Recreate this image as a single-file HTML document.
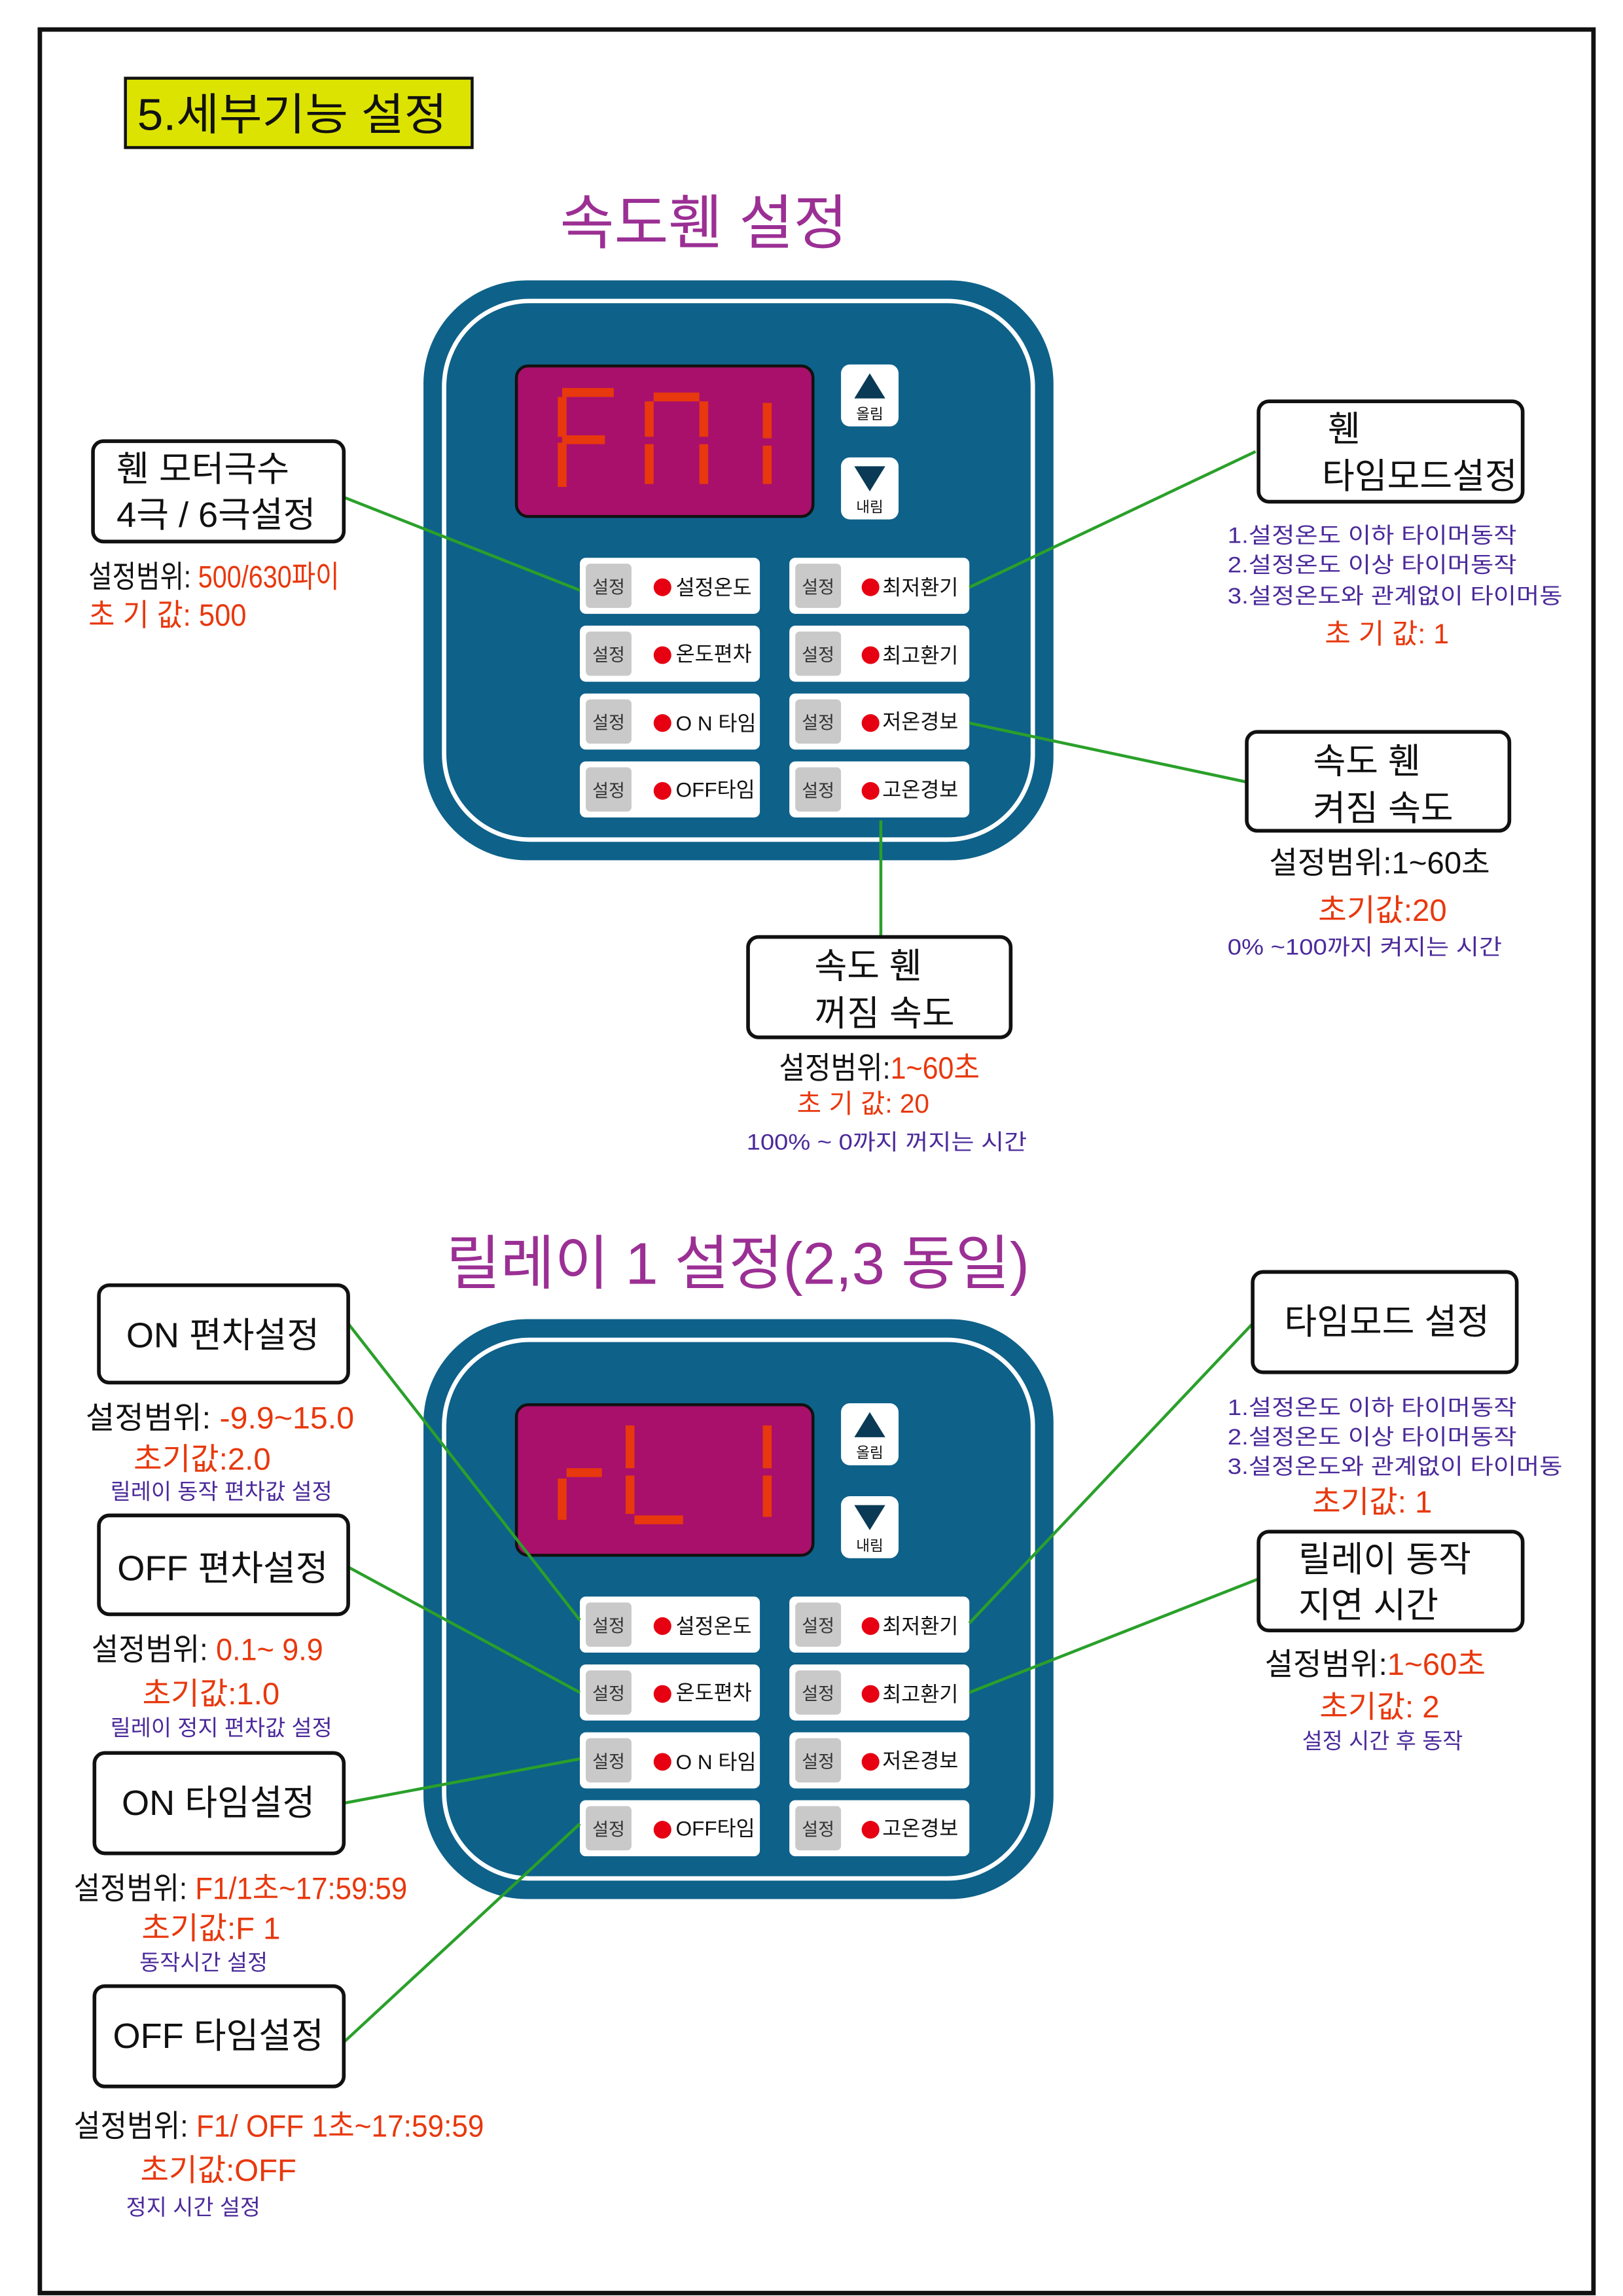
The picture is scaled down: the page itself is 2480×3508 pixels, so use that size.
<!DOCTYPE html>
<html><head><meta charset="utf-8"><style>
html,body{margin:0;padding:0;background:#fff}
svg{display:block}
text{font-family:"Liberation Sans","Noto Sans CJK KR",sans-serif}
.k{fill:#111}.r{fill:#e8380d}.p{fill:#4b2a9a}
</style></head><body>
<svg width="2480" height="3508" viewBox="0 0 1100 1556" xmlns="http://www.w3.org/2000/svg">
<rect x="0" y="0" width="1100" height="1556" fill="#fff"/>
<rect x="27" y="20" width="1053" height="1534" fill="none" stroke="#111" stroke-width="3"/>
<rect x="85" y="53" width="235" height="47" fill="#dde300" stroke="#111" stroke-width="2"/>
<text x="93" y="88" font-size="30" class="k" textLength="210" lengthAdjust="spacingAndGlyphs">5.세부기능 설정</text>

<text x="477" y="165" font-size="40" fill="#9b2f94" text-anchor="middle">속도휀  설정</text>

<!-- panel 1 -->
<g id="panel">
<rect x="287" y="190" width="427" height="393" rx="70" fill="#0e6189"/>
<rect x="301" y="204" width="399" height="365" rx="58" fill="none" stroke="#fff" stroke-width="3"/>
<rect x="350" y="248" width="201" height="102" rx="8" fill="#a8106b" stroke="#111" stroke-width="2"/>
<rect x="570" y="247" width="39" height="42" rx="6" fill="#fff"/>
<polygon points="589.5,253 579,270 600,270" fill="#0a3a55"/>
<text x="589.5" y="284" font-size="10" text-anchor="middle" class="k">올림</text>
<rect x="570" y="310" width="39" height="42" rx="6" fill="#fff"/>
<polygon points="579,316 600,316 589.5,333" fill="#0a3a55"/>
<text x="589.5" y="347" font-size="10" text-anchor="middle" class="k">내림</text>
<g font-size="14">
<rect x="393" y="378" width="122" height="38" rx="4" fill="#fff"/><rect x="397" y="382" width="31" height="30" rx="3" fill="#c9c9c9"/><text x="412.5" y="402" font-size="12" text-anchor="middle" fill="#333">설정</text><circle cx="449" cy="398" r="6" fill="#e60012"/><text x="458" y="403" class="k">설정온도</text>
<rect x="393" y="424" width="122" height="38" rx="4" fill="#fff"/><rect x="397" y="428" width="31" height="30" rx="3" fill="#c9c9c9"/><text x="412.5" y="448" font-size="12" text-anchor="middle" fill="#333">설정</text><circle cx="449" cy="444" r="6" fill="#e60012"/><text x="458" y="448" class="k">온도편차</text>
<rect x="393" y="470" width="122" height="38" rx="4" fill="#fff"/><rect x="397" y="474" width="31" height="30" rx="3" fill="#c9c9c9"/><text x="412.5" y="494" font-size="12" text-anchor="middle" fill="#333">설정</text><circle cx="449" cy="490" r="6" fill="#e60012"/><text x="458" y="495" class="k">O N 타임</text>
<rect x="393" y="516" width="122" height="38" rx="4" fill="#fff"/><rect x="397" y="520" width="31" height="30" rx="3" fill="#c9c9c9"/><text x="412.5" y="540" font-size="12" text-anchor="middle" fill="#333">설정</text><circle cx="449" cy="536" r="6" fill="#e60012"/><text x="458" y="540" class="k">OFF타임</text>
<rect x="535" y="378" width="122" height="38" rx="4" fill="#fff"/><rect x="539" y="382" width="31" height="30" rx="3" fill="#c9c9c9"/><text x="554.5" y="402" font-size="12" text-anchor="middle" fill="#333">설정</text><circle cx="590" cy="398" r="6" fill="#e60012"/><text x="598" y="403" class="k">최저환기</text>
<rect x="535" y="424" width="122" height="38" rx="4" fill="#fff"/><rect x="539" y="428" width="31" height="30" rx="3" fill="#c9c9c9"/><text x="554.5" y="448" font-size="12" text-anchor="middle" fill="#333">설정</text><circle cx="590" cy="444" r="6" fill="#e60012"/><text x="598" y="449" class="k">최고환기</text>
<rect x="535" y="470" width="122" height="38" rx="4" fill="#fff"/><rect x="539" y="474" width="31" height="30" rx="3" fill="#c9c9c9"/><text x="554.5" y="494" font-size="12" text-anchor="middle" fill="#333">설정</text><circle cx="590" cy="490" r="6" fill="#e60012"/><text x="598" y="494" class="k">저온경보</text>
<rect x="535" y="516" width="122" height="38" rx="4" fill="#fff"/><rect x="539" y="520" width="31" height="30" rx="3" fill="#c9c9c9"/><text x="554.5" y="540" font-size="12" text-anchor="middle" fill="#333">설정</text><circle cx="590" cy="536" r="6" fill="#e60012"/><text x="598" y="540" class="k">고온경보</text>
</g>
</g>
<g stroke="#e8380d" stroke-width="6" stroke-linecap="butt">
<line x1="381" y1="266" x2="416" y2="266"/><line x1="381" y1="269" x2="381" y2="296"/><line x1="381" y1="300" x2="381" y2="330"/><line x1="381" y1="298" x2="410" y2="298"/>
<line x1="443" y1="269" x2="474" y2="269"/><line x1="440" y1="272" x2="440" y2="296"/><line x1="440" y1="301" x2="440" y2="328"/><line x1="477" y1="272" x2="477" y2="296"/><line x1="477" y1="301" x2="477" y2="328"/>
<line x1="520" y1="273" x2="520" y2="297"/><line x1="520" y1="302" x2="520" y2="328"/>
</g>

<!-- panel 2 -->
<use href="#panel" y="704"/>
<g stroke="#e8380d" stroke-width="6">
<line x1="384" y1="998" x2="408" y2="998"/><line x1="381" y1="1002" x2="381" y2="1030"/>
<line x1="427" y1="966" x2="427" y2="995"/><line x1="427" y1="1000" x2="427" y2="1026"/><line x1="430" y1="1030" x2="463" y2="1030"/>
<line x1="520" y1="966" x2="520" y2="995"/><line x1="520" y1="1000" x2="520" y2="1028"/>
</g>

<!-- connectors -->
<g stroke="#2aa02a" stroke-width="2" fill="none">
<line x1="233" y1="337" x2="393" y2="400"/>
<line x1="657" y1="398" x2="851" y2="306"/>
<line x1="657" y1="490" x2="845" y2="530"/>
<line x1="597" y1="556" x2="597" y2="635"/>
<line x1="236" y1="897" x2="393" y2="1098"/>
<line x1="236" y1="1062" x2="393" y2="1147"/>
<line x1="233" y1="1222" x2="393" y2="1192"/>
<line x1="233" y1="1384" x2="393" y2="1236"/>
<line x1="657" y1="1100" x2="849" y2="897"/>
<line x1="657" y1="1147" x2="853" y2="1070"/>
</g>

<!-- callout boxes -->
<g fill="#fff" stroke="#111" stroke-width="2.5">
<rect x="63" y="299" width="170" height="68" rx="7"/>
<rect x="853" y="272" width="179" height="68" rx="7"/>
<rect x="845" y="496" width="178" height="67" rx="7"/>
<rect x="507" y="635" width="178" height="68" rx="7"/>
<rect x="67" y="871" width="169" height="66" rx="7"/>
<rect x="67" y="1027" width="169" height="67" rx="7"/>
<rect x="64" y="1188" width="169" height="68" rx="7"/>
<rect x="64" y="1346" width="169" height="68" rx="7"/>
<rect x="849" y="862" width="179" height="68" rx="7"/>
<rect x="853" y="1038" width="179" height="67" rx="7"/>
</g>

<g font-size="24" class="k">
<text x="79" y="326">휀  모터극수</text>
<text x="79" y="357">4극 / 6극설정</text>
<text x="900" y="299">휀</text>
<text x="896" y="331">타임모드설정</text>
<text x="890" y="524">속도 휀</text>
<text x="890" y="556">켜짐 속도</text>
<text x="552" y="663">속도 휀</text>
<text x="552" y="695">꺼짐 속도</text>
<text x="151" y="913" text-anchor="middle">ON 편차설정</text>
<text x="151" y="1071" text-anchor="middle">OFF 편차설정</text>
<text x="148" y="1230" text-anchor="middle">ON 타임설정</text>
<text x="148" y="1388" text-anchor="middle">OFF 타임설정</text>
<text x="940" y="904" text-anchor="middle">타임모드 설정</text>
<text x="880" y="1065">릴레이 동작</text>
<text x="880" y="1096">지연 시간</text>
</g>

<g font-size="21">
<text x="60" y="398" class="k" textLength="170" lengthAdjust="spacingAndGlyphs">설정범위: <tspan class="r">500/630파이</tspan></text>
<text x="60" y="424" class="r" textLength="107" lengthAdjust="spacingAndGlyphs">초 기 값: 500</text>
<text x="935" y="592" class="k" text-anchor="middle">설정범위:1~60초</text>
<text x="937" y="624" class="r" text-anchor="middle">초기값:20</text>
<text x="528" y="731" class="k" textLength="136" lengthAdjust="spacingAndGlyphs">설정범위:<tspan class="r">1~60초</tspan></text>
<text x="585" y="754" class="r" text-anchor="middle" font-size="18">초 기 값: 20</text>
<text x="58" y="968" class="k" textLength="182" lengthAdjust="spacingAndGlyphs">설정범위: <tspan class="r">-9.9~15.0</tspan></text>
<text x="137" y="996" class="r" text-anchor="middle">초기값:2.0</text>
<text x="62" y="1125" class="k" textLength="157" lengthAdjust="spacingAndGlyphs">설정범위: <tspan class="r">0.1~ 9.9</tspan></text>
<text x="143" y="1155" class="r" text-anchor="middle">초기값:1.0</text>
<text x="50" y="1287" class="k" textLength="226" lengthAdjust="spacingAndGlyphs">설정범위: <tspan class="r">F1/1초~17:59:59</tspan></text>
<text x="143" y="1314" class="r" text-anchor="middle">초기값:F 1</text>
<text x="50" y="1448" class="k" textLength="278" lengthAdjust="spacingAndGlyphs">설정범위: <tspan class="r">F1/ OFF 1초~17:59:59</tspan></text>
<text x="148" y="1478" class="r" text-anchor="middle">초기값:OFF</text>
<text x="932" y="1135" class="k" text-anchor="middle">설정범위:<tspan class="r">1~60초</tspan></text>
<text x="935" y="1164" class="r" text-anchor="middle">초기값: 2</text>
<text x="930" y="1025" class="r" text-anchor="middle">초기값: 1</text>
<text x="940" y="436" class="r" text-anchor="middle" font-size="19">초 기 값: 1</text>
</g>

<g font-size="15" class="p">
<text x="832" y="368" textLength="196" lengthAdjust="spacingAndGlyphs">1.설정온도 이하 타이머동작</text>
<text x="832" y="388" textLength="196" lengthAdjust="spacingAndGlyphs">2.설정온도 이상 타이머동작</text>
<text x="832" y="409" textLength="227" lengthAdjust="spacingAndGlyphs">3.설정온도와 관계없이 타이머동</text>
<text x="832" y="647" textLength="186" lengthAdjust="spacingAndGlyphs">0% ~100까지 켜지는 시간</text>
<text x="506" y="779" textLength="190" lengthAdjust="spacingAndGlyphs">100% ~ 0까지 꺼지는 시간</text>
<text x="832" y="959" textLength="196" lengthAdjust="spacingAndGlyphs">1.설정온도 이하 타이머동작</text>
<text x="832" y="979" textLength="196" lengthAdjust="spacingAndGlyphs">2.설정온도 이상 타이머동작</text>
<text x="832" y="999" textLength="227" lengthAdjust="spacingAndGlyphs">3.설정온도와 관계없이 타이머동</text>
<text x="150" y="1016" text-anchor="middle">릴레이 동작 편차값 설정</text>
<text x="150" y="1176" text-anchor="middle">릴레이 정지 편차값 설정</text>
<text x="138" y="1335" text-anchor="middle">동작시간  설정</text>
<text x="131" y="1501" text-anchor="middle">정지 시간  설정</text>
<text x="937" y="1185" text-anchor="middle">설정 시간 후 동작</text>
</g>

<text x="500" y="870" font-size="40" fill="#9b2f94" text-anchor="middle">릴레이 1 설정(2,3 동일)</text>
</svg>
</body></html>
